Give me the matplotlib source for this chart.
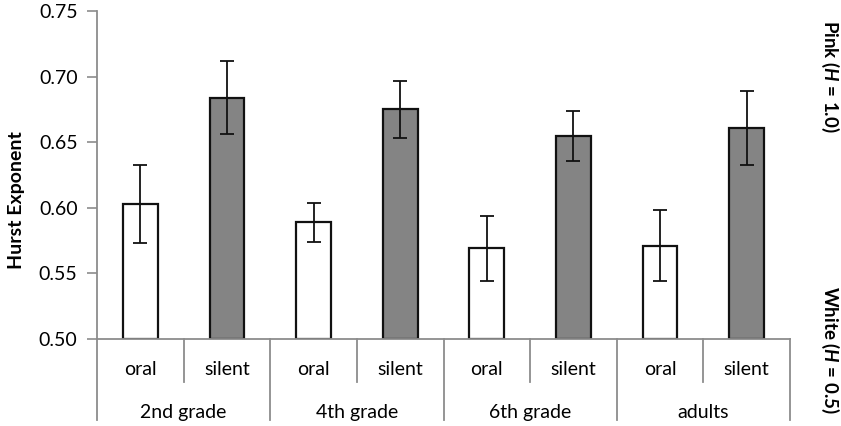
import numpy as np
import matplotlib
matplotlib.use("Agg")
import matplotlib.pyplot as plt

plt.rcParams['font.family'] = ['Lato', 'DejaVu Sans']
plt.rcParams['mathtext.fontset'] = 'custom'
plt.rcParams['mathtext.it'] = 'Lato:bold:italic'
plt.rcParams['mathtext.rm'] = 'Lato:bold'

# Hurst exponents per group and reading mode
groups = ['2nd grade', '4th grade', '6th grade', 'adults']
modes = ['oral', 'silent']
oral_h = [0.603, 0.589, 0.569, 0.571]
oral_err = [0.030, 0.015, 0.025, 0.027]
silent_h = [0.684, 0.675, 0.655, 0.661]
silent_err = [0.028, 0.022, 0.019, 0.028]
yticks = [0.50, 0.55, 0.60, 0.65, 0.70, 0.75]

fig = plt.figure(figsize=(8.41, 4.26), dpi=100)
ax = fig.add_axes([0.1153, 0.2042, 0.8241, 0.77])

gray = '#8c8c8c'
fs = 14
ng = len(groups)
xo = np.arange(ng) * 2 + 0.5
xs = np.arange(ng) * 2 + 1.5
w = 0.4
ax.bar(xo, np.array(oral_h) - 0.5, bottom=0.5, width=w, color='white',
       edgecolor='#111111', linewidth=1.6, zorder=2)
ax.bar(xs, np.array(silent_h) - 0.5, bottom=0.5, width=w, color='#848484',
       edgecolor='#111111', linewidth=1.6, zorder=2)
ax.errorbar(xo, oral_h, yerr=oral_err, fmt='none', ecolor='#111111',
            elinewidth=1.3, capsize=5, capthick=1.3, zorder=3)
ax.errorbar(xs, silent_h, yerr=silent_err, fmt='none', ecolor='#111111',
            elinewidth=1.3, capsize=5, capthick=1.3, zorder=3)

ax.set_xlim(0, 2 * ng)
ax.set_ylim(0.5, 0.75)
ax.set_yticks(yticks)
ax.set_yticklabels(['%.2f' % t for t in yticks], fontsize=fs)
ax.tick_params(axis='y', direction='out', length=7, color=gray, width=1.2, pad=7)
ax.set_xticks([])
for s in ['top', 'right']:
    ax.spines[s].set_visible(False)
for s in ['left', 'bottom']:
    ax.spines[s].set_color(gray)
    ax.spines[s].set_linewidth(1.3)

# two-level category axis
trans = ax.get_xaxis_transform()
for i in range(ng + 1):
    ax.plot([2 * i, 2 * i], [0, -0.247], color=gray, lw=1.3,
            transform=trans, clip_on=False)
for i in range(ng):
    ax.plot([2 * i + 1, 2 * i + 1], [0, -0.131], color=gray, lw=1.3,
            transform=trans, clip_on=False)
    for j, m in enumerate(modes):
        ax.text(2 * i + 0.5 + j, -0.094, m, transform=trans, ha='center',
                va='center', fontsize=fs)
    ax.text(2 * i + 1, -0.223, groups[i], transform=trans, ha='center',
            va='center', fontsize=fs)

ax.set_ylabel('Hurst Exponent', fontsize=14, fontweight='bold')
ax.yaxis.set_label_coords(-0.104, 0.424)

fig.text(0.987, 0.82, r'Pink ($H$ = 1.0)', rotation=-90, ha='center',
         va='center', fontsize=13.5, fontweight='bold')
fig.text(0.987, 0.178, r'White ($H$ = 0.5)', rotation=-90, ha='center',
         va='center', fontsize=13.5, fontweight='bold')

fig.savefig('out.png', dpi=100)
